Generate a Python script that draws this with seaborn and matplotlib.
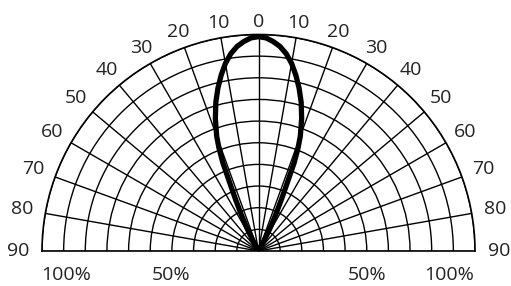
import numpy as np
import matplotlib
matplotlib.use("Agg")
import matplotlib.pyplot as plt
import seaborn as sns

# ---- data ----
half_angles = [0, 2, 4, 6, 8, 10, 12, 14, 16, 18, 20, 21, 22, 23, 24, 25, 26, 27, 28, 29]
half_values = [99, 98.5, 97, 95, 92, 88, 83, 77.5, 71.5, 64.5, 56.5, 51, 44, 33, 26, 20,
               15.5, 11, 6, 0]
angles_deg = [-a for a in half_angles[::-1]] + half_angles[1:]
intensity = half_values[::-1] + half_values[1:]

angle_ticks = [-90, -80, -70, -60, -50, -40, -30, -20, -10, 0,
               10, 20, 30, 40, 50, 60, 70, 80, 90]
angle_labels = [str(abs(a)) for a in angle_ticks]
ring_ticks = [10, 20, 30, 40, 50, 60, 70, 80, 90, 100]
bottom_labels = ["100%", "50%", "50%", "100%"]
bottom_x = [-0.89, -0.405, 0.50, 0.88]

sns.set_style("white")
plt.rcParams["font.family"] = ["Open Sans", "DejaVu Sans"]

W, H = 511, 286
fig = plt.figure(figsize=(W / 100, H / 100), dpi=100)
cx, cy, R = 258.5, 251.0, 216.5
# square box; the half-disk wedge is centred inside it
box_top = cy - 1.5 * R
ax = fig.add_axes([(cx - R) / W, (H - (box_top + 2 * R)) / H, 2 * R / W, 2 * R / H],
                  projection="polar")
ax.set_theta_zero_location("N")
ax.set_theta_direction(-1)
ax.set_thetamin(-90)
ax.set_thetamax(90)
ax.set_ylim(0, 100)
ax.set_xticks(np.deg2rad(angle_ticks))
ax.set_xticklabels([])
ax.set_yticks(ring_ticks)
ax.set_yticklabels([])
ax.grid(True, color="black", lw=1.0)
ax.tick_params(length=0)
for name, sp in ax.spines.items():
    if name == "inner":
        sp.set_visible(False)
    else:
        sp.set_color("black")
        sp.set_linewidth(1.2)

sns.lineplot(x=np.deg2rad(angles_deg), y=intensity, ax=ax, color="black",
             lw=3.8, sort=False, legend=False)

txtc = "#222222"
fs = 14
for a, lab in zip(angle_ticks, angle_labels):
    rr = 100 * (1.06 + 0.05 * np.sin(np.deg2rad(abs(a))))
    ax.text(np.deg2rad(a), rr, lab, ha="center", va="center", fontsize=fs,
            color=txtc, clip_on=False)

yb = -0.11
for x, lab in zip(bottom_x, bottom_labels):
    th = np.arctan2(x, yb)
    rr = 100 * np.hypot(x, yb)
    ax.text(th, rr, lab, ha="center", va="center", fontsize=fs,
            color=txtc, clip_on=False)

fig.savefig("out.png", dpi=100)
